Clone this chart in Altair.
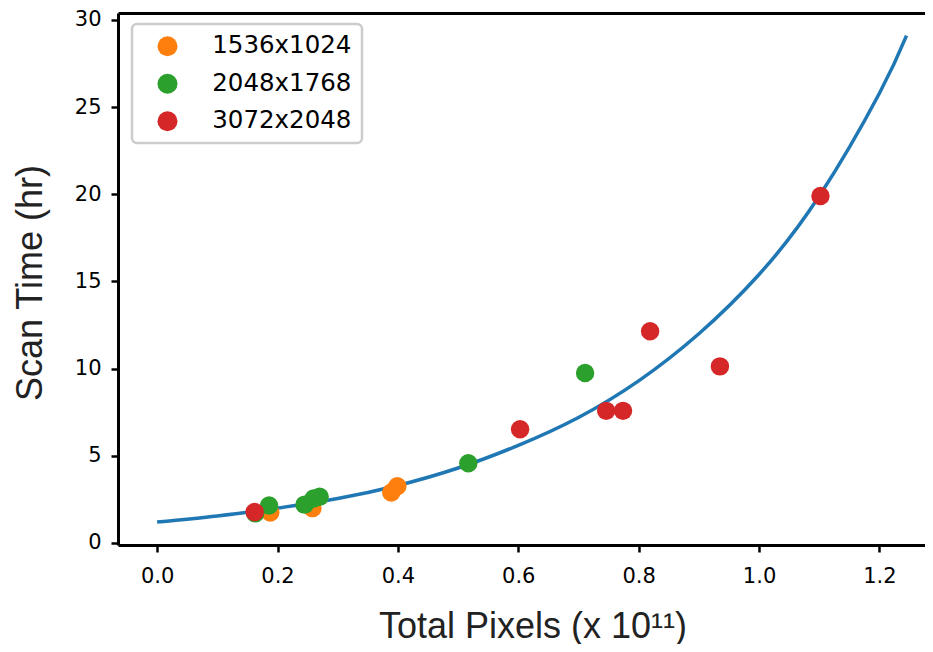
import altair as alt
import pandas as pd

# ---- data ----
series_names = ["1536x1024", "2048x1768", "3072x2048"]
series_colors = ["#ff7f0e", "#2ca02c", "#d62728"]

orange_x = [0.188, 0.258, 0.389, 0.399]
orange_y = [1.75, 2.00, 2.90, 3.25]

green_x = [0.163, 0.186, 0.245, 0.260, 0.270, 0.517, 0.711]
green_y = [1.70, 2.15, 2.20, 2.55, 2.65, 4.57, 9.75]

red_x = [0.162, 0.603, 0.746, 0.774, 0.819, 0.935, 1.102]
red_y = [1.78, 6.52, 7.58, 7.58, 12.15, 10.13, 19.90]

# fitted curve
curve_x = [0.0, 0.1, 0.2, 0.3, 0.4, 0.5, 0.6, 0.7, 0.8, 0.9, 1.0, 1.1, 1.2, 1.245]
curve_y = [1.2, 1.55, 2.0, 2.55, 3.3, 4.3, 5.6, 7.2, 9.3, 12.0, 15.4, 19.9, 25.8, 29.1]

x_ticks = [0.0, 0.2, 0.4, 0.6, 0.8, 1.0, 1.2]
y_ticks = [0, 5, 10, 15, 20, 25, 30]

# ---- tables ----
pts = pd.concat([
    pd.DataFrame({"x": orange_x, "y": orange_y, "Size": series_names[0]}),
    pd.DataFrame({"x": green_x, "y": green_y, "Size": series_names[1]}),
    pd.DataFrame({"x": red_x, "y": red_y, "Size": series_names[2]}),
], ignore_index=True)
curve = pd.DataFrame({"x": curve_x, "y": curve_y})

W, H = 807, 532
x_scale = alt.Scale(domain=[-0.065, 1.2757], nice=False, zero=False)
y_scale = alt.Scale(domain=[-0.115, 30.4], nice=False, zero=False)

x_axis = alt.Axis(
    values=x_ticks, format=".1f", grid=False,
    title="Total Pixels (x 10¹¹)",
    titleX=414.5, titleY=92, titleBaseline="alphabetic", titleAlign="center",
    labelPadding=13, labelFlush=False,
)
y_axis = alt.Axis(
    values=y_ticks, format="d", grid=False,
    title="Scan Time (hr)",
    titleAngle=270, titleX=-76.5, titleY=269.5,
    titleBaseline="alphabetic", titleAlign="center",
    labelPadding=10,
)
top_axis = alt.Axis(orient="top", labels=False, ticks=False, title=None,
                    grid=False, domain=True)

line = alt.Chart(curve).mark_line(color="#1f77b4", strokeWidth=3.5,
                                  interpolate="natural").encode(
    x=alt.X("x:Q", scale=x_scale, axis=x_axis),
    y=alt.Y("y:Q", scale=y_scale, axis=y_axis),
)

points = alt.Chart(pts).mark_circle(size=340, opacity=1).encode(
    x=alt.X("x:Q", scale=x_scale, axis=top_axis),
    y=alt.Y("y:Q", scale=y_scale, axis=y_axis),
    color=alt.Color(
        "Size:N",
        scale=alt.Scale(domain=series_names, range=series_colors),
        legend=alt.Legend(
            title=None, orient="none", legendX=14, legendY=11,
            padding=10, rowPadding=12.5,
            symbolType="circle", symbolSize=400, symbolStrokeWidth=0,
            symbolOffset=13.25, labelOffset=32.5,
        ),
    ),
)

chart = alt.layer(line, points).resolve_axis(x="independent").properties(
    width=W, height=H,
    autosize=alt.AutoSizeParams(type="none"),
    padding={"left": 110, "top": 5, "right": 0, "bottom": 99},
    background="white",
).configure_view(stroke=None).configure_axis(
    labelFont="DejaVu Sans", labelFontSize=21, labelColor="black",
    tickColor="black", tickWidth=2.5, tickSize=7,
    domainColor="black", domainWidth=3,
    titleFont="Liberation Sans", titleFontSize=36, titleFontWeight="normal",
    titleColor="#222222",
).configure_legend(
    labelFont="DejaVu Sans", labelFontSize=24.5, labelColor="black",
    fillColor="white", strokeColor="#cccccc", strokeWidth=2.5, cornerRadius=5,
)

chart.save("out.html", embed_options={"renderer": "svg", "actions": False})
